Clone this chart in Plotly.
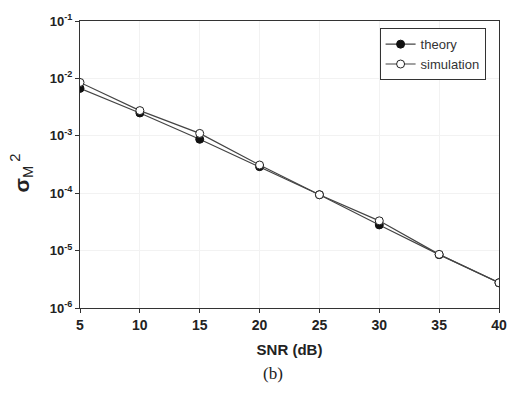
import plotly.graph_objects as go

snr = [5, 10, 15, 20, 25, 30, 35, 40]
theory = [6.7e-3, 2.5e-3, 8.7e-4, 2.9e-4, 9.4e-5, 2.8e-5, 8.5e-6, 2.75e-6]
simulation = [8.5e-3, 2.75e-3, 1.1e-3, 3.1e-4, 9.4e-5, 3.3e-5, 8.6e-6, 2.75e-6]
ytick_vals = [1e-6, 1e-5, 1e-4, 1e-3, 1e-2, 1e-1]
ytick_text = ["10<sup>-6</sup>", "10<sup>-5</sup>", "10<sup>-4</sup>",
              "10<sup>-3</sup>", "10<sup>-2</sup>", "10<sup>-1</sup>"]
xtick_vals = [5, 10, 15, 20, 25, 30, 35, 40]

fig = go.Figure()
fig.add_trace(go.Scatter(
    x=snr, y=theory, name="theory", mode="lines+markers",
    line=dict(color="#444", width=1.2),
    marker=dict(symbol="circle", size=8, color="#111", line=dict(color="#111", width=1)),
))
fig.add_trace(go.Scatter(
    x=snr, y=simulation, name="simulation", mode="lines+markers",
    line=dict(color="#444", width=1.2),
    marker=dict(symbol="circle", size=8, color="white", line=dict(color="#222", width=1)),
))

fig.update_layout(
    width=519, height=395,
    margin=dict(l=80, r=16, t=14, b=87),
    paper_bgcolor="white", plot_bgcolor="white",
    showlegend=True,
    legend=dict(
        x=0.715, y=0.975, xanchor="left", yanchor="top",
        bordercolor="#333", borderwidth=1, bgcolor="white",
        font=dict(family="Liberation Sans, Arial", size=13, color="#333"),
        tracegroupgap=0, itemwidth=30,
    ),
    xaxis=dict(
        range=[5, 40], tickvals=xtick_vals, ticks="outside", ticklen=4,
        tickcolor="#333", linecolor="#333", linewidth=1, mirror=True,
        showgrid=True, gridcolor="#f2f2f2", zeroline=False,
        tickfont=dict(family="Liberation Sans, Arial", size=14, color="#222", weight="bold"),
        title=dict(text="<b>SNR (dB)</b>", font=dict(family="Liberation Sans, Arial", size=15, color="#222"), standoff=12),
    ),
    yaxis=dict(
        type="log", range=[-6, -1], tickvals=ytick_vals, ticktext=ytick_text,
        ticks="outside", ticklen=4, tickcolor="#333", linecolor="#333", linewidth=1,
        mirror=True, showgrid=True, gridcolor="#f2f2f2", zeroline=False,
        tickfont=dict(family="Liberation Sans, Arial", size=13, color="#222", weight="bold"),
    ),
    annotations=[
        dict(text="<b>σ</b><sub>M</sub><sup> 2</sup>", x=-0.14, y=0.47, xref="paper", yref="paper",
             xanchor="center", yanchor="middle",
             textangle=-90, showarrow=False,
             font=dict(family="Liberation Sans, Arial", size=21, color="#222")),
        dict(text="(b)", x=0.46, y=-0.228, xref="paper", yref="paper", showarrow=False,
             xanchor="center", yanchor="middle",
             font=dict(family="Liberation Serif, Times New Roman", size=17, color="#222")),
    ],
)

fig.write_html("out.html")
